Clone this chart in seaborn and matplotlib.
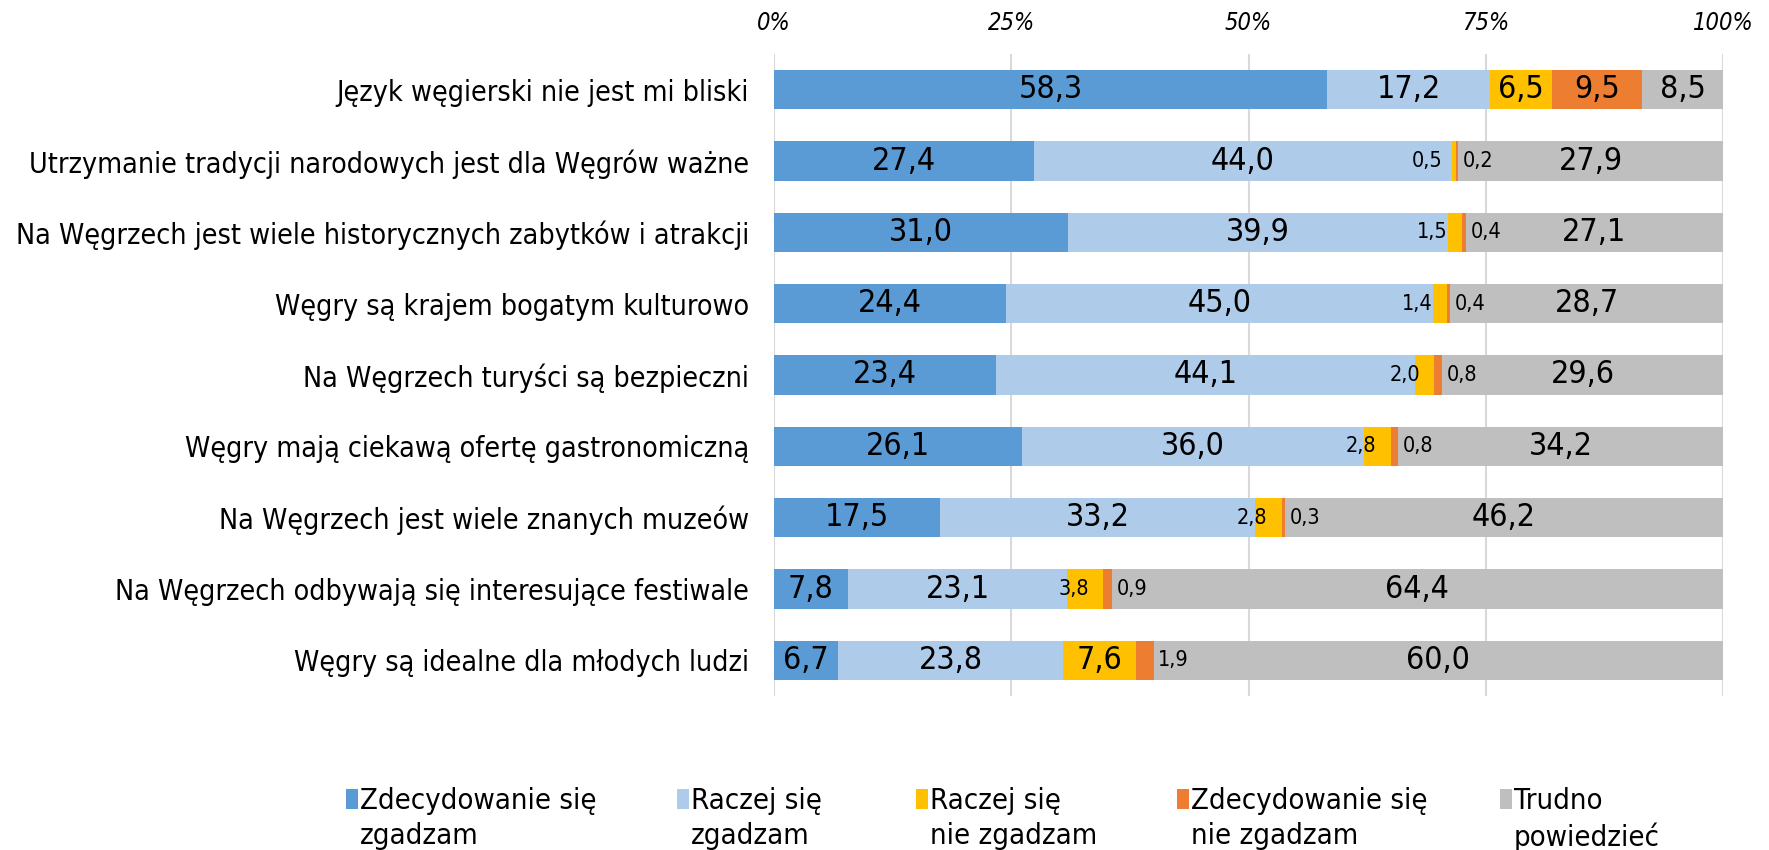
import numpy as np
import matplotlib
matplotlib.use("Agg")
import matplotlib.pyplot as plt
from matplotlib.patches import Rectangle
import seaborn as sns

# %%
# Data (percent of answers)
statements = [
    "Język węgierski nie jest mi bliski",
    "Utrzymanie tradycji narodowych jest dla Węgrów ważne",
    "Na Węgrzech jest wiele historycznych zabytków i atrakcji",
    "Węgry są krajem bogatym kulturowo",
    "Na Węgrzech turyści są bezpieczni",
    "Węgry mają ciekawą ofertę gastronomiczną",
    "Na Węgrzech jest wiele znanych muzeów",
    "Na Węgrzech odbywają się interesujące festiwale",
    "Węgry są idealne dla młodych ludzi",
]
series_names = [
    "Zdecydowanie się\nzgadzam",
    "Raczej się\nzgadzam",
    "Raczej się\nnie zgadzam",
    "Zdecydowanie się\nnie zgadzam",
    "Trudno\npowiedzieć",
]
strongly_agree = [58.3, 27.4, 31.0, 24.4, 23.4, 26.1, 17.5, 7.8, 6.7]
rather_agree = [17.2, 44.0, 39.9, 45.0, 44.1, 36.0, 33.2, 23.1, 23.8]
rather_disagree = [6.5, 0.5, 1.5, 1.4, 2.0, 2.8, 2.8, 3.8, 7.6]
strongly_disagree = [9.5, 0.2, 0.4, 0.4, 0.8, 0.8, 0.3, 0.9, 1.9]
hard_to_say = [8.5, 27.9, 27.1, 28.7, 29.6, 34.2, 46.2, 64.4, 60.0]
tick_values = [0, 25, 50, 75, 100]
tick_labels = ["0%", "25%", "50%", "75%", "100%"]

colors = ["#5B9BD5", "#AECBEA", "#FFC000", "#ED7D31", "#BFBFBF"]

# %%
sns.set_style("white")
plt.rcParams["font.family"] = ["DejaVu Sans"]
plt.rcParams["font.stretch"] = "condensed"
plt.rcParams["text.color"] = "black"
plt.rcParams["xtick.color"] = "black"
plt.rcParams["ytick.color"] = "black"

W, H = 1769, 850
fig = plt.figure(figsize=(W / 100, H / 100), dpi=100)
ax = fig.add_axes([774 / W, 1 - 696 / H, (1723 - 774) / W, (696 - 54) / H])

values = np.array([strongly_agree, rather_agree, rather_disagree,
                   strongly_disagree, hard_to_say])
# 100% stacked: normalise each row like the spreadsheet does
shares = values / values.sum(axis=0) * 100
cum = np.cumsum(shares, axis=0)

# draw cumulative bars from the last series back to the first
for i in range(len(series_names) - 1, -1, -1):
    sns.barplot(x=cum[i], y=statements, color=colors[i], saturation=1,
                width=0.55, linewidth=0, orient="h", ax=ax)

# value labels
for i in range(len(series_names)):
    for j in range(len(statements)):
        v = values[i, j]
        txt = f"{v:.1f}".replace(".", ",")
        start = cum[i, j] - shares[i, j]
        end = cum[i, j]
        if v >= 5:
            ax.text((start + end) / 2, j, txt, ha="center", va="center",
                    fontsize=23)
        elif i == 2:
            ax.text(end - 1.5, j, txt, ha="right", va="center",
                    fontsize=15.5)
        else:
            ax.text(end + 0.5, j, txt, ha="left", va="center",
                    fontsize=15.5)

ax.set_xlim(0, 100)
ax.set_ylim(len(statements) - 0.5, -0.5)
ax.xaxis.tick_top()
ax.set_xticks(tick_values)
ax.set_xticklabels(tick_labels, fontstyle="italic")
ax.tick_params(axis="x", length=0, pad=14, labelsize=17)
ax.tick_params(axis="y", length=0, pad=18, labelsize=20.5)
ax.set_xlabel("")
ax.set_ylabel("")
ax.grid(axis="x", color="#D9D9D9", linewidth=1.5)
ax.grid(axis="y", visible=False)
ax.set_axisbelow(True)
for s in ax.spines.values():
    s.set_visible(False)

# legend laid out in columns like the original
legend_x = [346, 677, 916, 1177, 1500]
for name, col, lx in zip(series_names, colors, legend_x):
    fig.patches.append(Rectangle((lx / W, 1 - 809 / H), 12 / W, 20 / H,
                                 transform=fig.transFigure, color=col,
                                 linewidth=0))
    fig.text((lx + 14) / W, 1 - 787 / H, name, ha="left", va="top",
             fontsize=21, linespacing=1.3)

fig.savefig("out.png", dpi=100)
